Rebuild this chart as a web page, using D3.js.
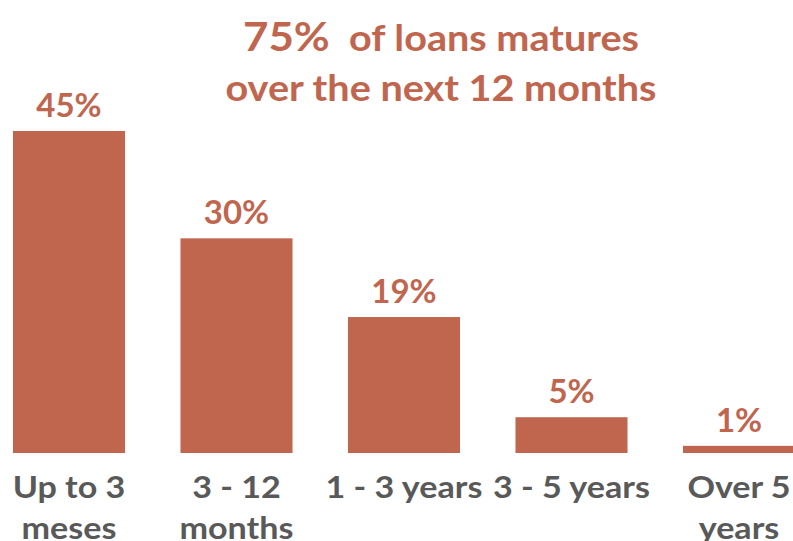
<!DOCTYPE html>
<html>
<head>
<meta charset="utf-8">
<script src="https://cdn.jsdelivr.net/npm/d3@7"></script>
<style>
  html, body { margin: 0; padding: 0; background: #fff; }
  svg { display: block; }
  text { font-family: Lato, "Open Sans", sans-serif; font-weight: 700; }
</style>
</head>
<body>
<svg id="chart" width="793" height="541"></svg>
<script>
// Loan maturity profile
const categories = ["Up to 3|meses", "3 - 12|months", "1 - 3 years", "3 - 5 years", "Over 5|years"];
const shares = [45, 30, 19, 5, 1];
const titleLines = [["75%", "  of loans matures"], ["over the next 12 months"]];

const W = 793, H = 541;
const barColor = "#C0664F";
const labelColor = "#595959";

const svg = d3.select("#chart");

const x = d3.scaleBand()
  .domain(categories)
  .range([-14.75, 822.75])
  .paddingInner(0.331)
  .paddingOuter(0.1655);

const y = d3.scaleLinear()
  .domain([0, 45])
  .range([453, 131]);

// bars
svg.append("g").selectAll("rect")
  .data(shares)
  .join("rect")
  .attr("x", (d, i) => x(categories[i]))
  .attr("width", x.bandwidth())
  .attr("y", d => y(d))
  .attr("height", d => y(0) - y(d))
  .attr("fill", barColor);

// value labels above each bar
svg.append("g").selectAll("text")
  .data(shares)
  .join("text")
  .attr("x", (d, i) => x(categories[i]) + x.bandwidth() / 2)
  .attr("y", d => y(d) - 14)
  .attr("text-anchor", "middle")
  .attr("fill", barColor)
  .attr("font-size", 33)
  .text(d => d + "%");

// category axis (labels wrap onto two lines where needed)
const xAxis = svg.append("g")
  .attr("transform", `translate(0,${y(0)})`)
  .call(d3.axisBottom(x).tickSize(0).tickFormat(""));
xAxis.select(".domain").remove();

xAxis.selectAll(".tick").each(function(d) {
  const t = d3.select(this).append("text")
    .attr("text-anchor", "middle")
    .attr("transform", "scale(1.1,1)")
    .attr("fill", labelColor)
    .attr("font-size", 31);
  d.split("|").forEach((line, k) => {
    t.append("tspan").attr("x", 0).attr("y", 45 + k * 41).text(line);
  });
});

// two-line headline
const titleG = svg.append("g").attr("transform", "translate(441,0)");
const t1 = titleG.append("text")
  .attr("text-anchor", "middle")
  .attr("transform", "scale(1.07,1)")
  .attr("fill", barColor);
t1.append("tspan").attr("x", 0).attr("y", 51)
  .attr("font-size", 41).text(titleLines[0][0]);
t1.append("tspan").attr("font-size", 37)
  .style("white-space", "pre")
  .text(titleLines[0][1]);
titleG.append("text")
  .attr("text-anchor", "middle")
  .attr("transform", "scale(1.1,1)")
  .attr("fill", barColor)
  .attr("x", 0).attr("y", 101)
  .attr("font-size", 36)
  .text(titleLines[1][0]);
</script>
</body>
</html>
